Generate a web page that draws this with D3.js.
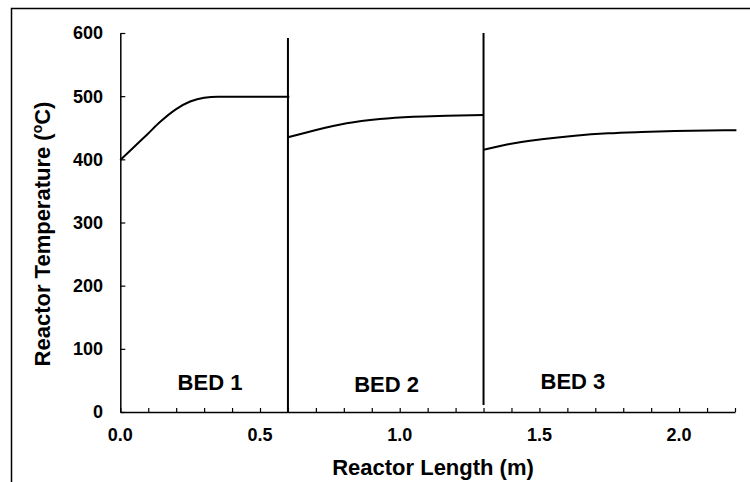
<!DOCTYPE html>
<html><head><meta charset="utf-8">
<script src="https://cdn.jsdelivr.net/npm/d3@7"></script>
<style>
html,body{margin:0;padding:0;background:#fff;}
svg{display:block;}
text{font-family:"Liberation Sans",Arial,sans-serif;font-weight:bold;fill:#000;}
</style></head>
<body>
<svg id="chart" width="750" height="482"></svg>
<script>
// ---- data ----
const bed1X = [0, 0.05, 0.1, 0.142, 0.2, 0.25, 0.3, 0.35, 0.45, 0.605];
const bed1T = [399, 420, 441, 459, 479.5, 491.5, 497.5, 499, 499, 499];
const bed2X = [0.6, 0.69, 0.81, 0.929, 1.048, 1.168, 1.3];
const bed2T = [435, 445.3, 457, 463.8, 467.5, 469, 470];
const bed3X = [1.3, 1.388, 1.508, 1.627, 1.746, 1.865, 1.985, 2.104, 2.205];
const bed3T = [415, 423.8, 431.7, 437.4, 441.2, 443.3, 444.8, 445.6, 446];
const dividerX = [0.6, 1.3];
const dividerBottom = [0, 11];
const dividerTop = [592, 600];
const bedLabels = ["BED 1", "BED 2", "BED 3"];
const bedLabelX = [0.321, 0.953, 1.62];
const bedLabelT = [35, 31, 36];
const xMajorTicks = [0, 0.5, 1.0, 1.5, 2.0];
const xMinorTicks = d3.range(0, 23).map(i => i / 10);
const yTicks = [0, 100, 200, 300, 400, 500, 600];
const xTitle = "Reactor Length (m)";

// ---- layout ----
const svg = d3.select("#chart");
const x = d3.scaleLinear().domain([0, 2.2]).range([120.3, 735]);
const y = d3.scaleLinear().domain([0, 600]).range([412, 33]);

// outer border
svg.append("rect").attr("x", 11.5).attr("y", 8.5).attr("width", 800).attr("height", 600)
  .attr("fill", "none").attr("stroke", "#000").attr("stroke-width", 1.5);

// x axis: minor ticks (inside), labels separately
const xAxis = svg.append("g").attr("transform", `translate(0,${y(0)})`)
  .call(d3.axisBottom(x).tickValues(xMinorTicks).tickSizeInner(-4).tickSizeOuter(0).tickFormat(""));
xAxis.select(".domain").attr("stroke", "#000").attr("stroke-width", 1.5);
xAxis.selectAll(".tick line").attr("stroke", "#000").attr("stroke-width", 1.2);

svg.append("g").selectAll("text").data(xMajorTicks).join("text")
  .attr("x", d => x(d)).attr("y", 441).attr("text-anchor", "middle")
  .attr("font-size", "18px").text(d => d3.format(".1f")(d));

// y axis: ticks inward
const yAxis = svg.append("g").attr("transform", `translate(${x(0)},0)`)
  .call(d3.axisLeft(y).tickValues(yTicks).tickSizeInner(-5).tickSizeOuter(0).tickFormat(""));
yAxis.select(".domain").attr("stroke", "#000").attr("stroke-width", 1.5);
yAxis.selectAll(".tick line").attr("stroke", "#000").attr("stroke-width", 1.2);

svg.append("g").selectAll("text").data(yTicks).join("text")
  .attr("x", 103).attr("y", d => y(d)).attr("dy", "0.36em").attr("text-anchor", "end")
  .attr("font-size", "18px").text(d => d);

// divider lines
svg.append("g").selectAll("line").data(dividerX).join("line")
  .attr("x1", d => x(d)).attr("x2", d => x(d))
  .attr("y1", (d, i) => y(dividerBottom[i])).attr("y2", (d, i) => y(dividerTop[i]))
  .attr("stroke", "#000").attr("stroke-width", 2);

// curves
const line = d3.line().x(d => x(d[0])).y(d => y(d[1])).curve(d3.curveMonotoneX);
[[bed1X, bed1T], [bed2X, bed2T], [bed3X, bed3T]].forEach(([xs, ts]) => {
  svg.append("path").datum(xs.map((v, i) => [v, ts[i]]))
    .attr("d", line).attr("fill", "none").attr("stroke", "#000").attr("stroke-width", 2);
});

// bed labels
svg.append("g").selectAll("text").data(bedLabels).join("text")
  .attr("x", (d, i) => x(bedLabelX[i])).attr("y", (d, i) => y(bedLabelT[i]))
  .attr("text-anchor", "middle").attr("font-size", "22px").text(d => d);

// axis titles
svg.append("text").attr("x", 433).attr("y", 475).attr("text-anchor", "middle")
  .attr("font-size", "22px").text(xTitle);

const yt = svg.append("text").attr("transform", `translate(50,234) rotate(-90)`)
  .attr("text-anchor", "middle").attr("font-size", "22px");
yt.append("tspan").text("Reactor Temperature (");
yt.append("tspan").attr("font-size", "14px").attr("dy", "-8").text("o");
yt.append("tspan").attr("dy", "8").text("C)");
</script>
</body></html>
